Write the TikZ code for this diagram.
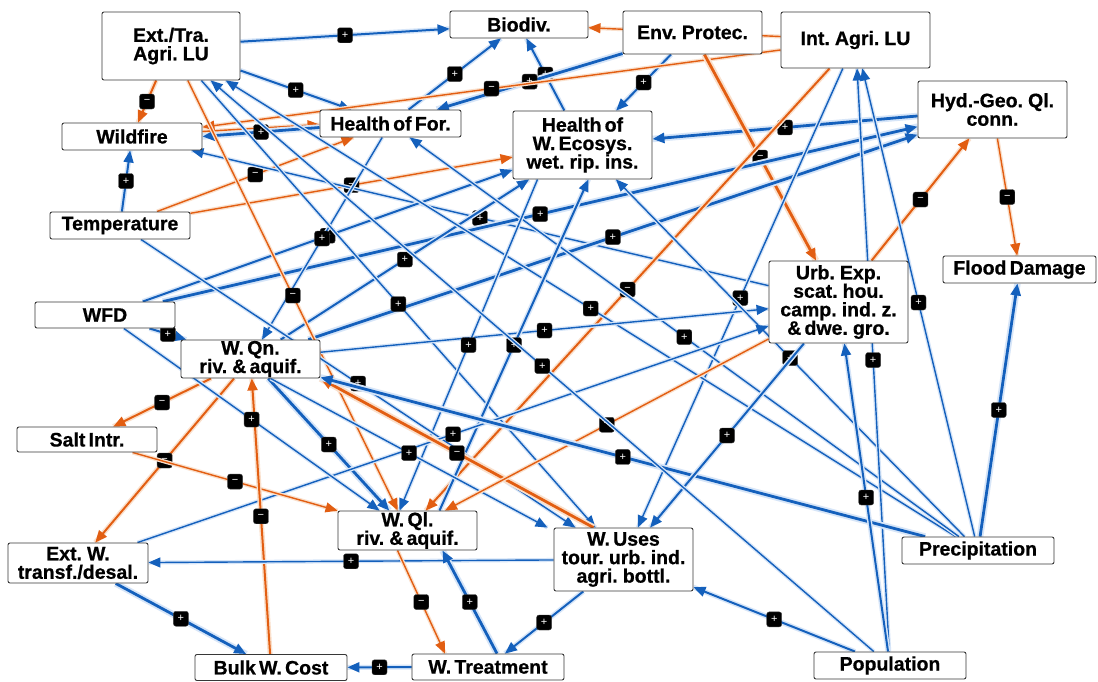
\documentclass[tikz,border=0pt]{standalone}
\usepackage{fontspec}
\setmainfont{Liberation Sans}[WordSpace=0.6, BoldFeatures={FakeBold=0.7}]
\usetikzlibrary{arrows.meta}

\definecolor{lnkblue}{RGB}{20,96,188}
\definecolor{lnkorange}{RGB}{226,94,18}
\definecolor{glowblue}{RGB}{214,229,248}
\definecolor{gloworange}{RGB}{250,224,204}
\definecolor{cframe}{RGB}{55,55,55}

\pgfdeclarelayer{links}
\pgfsetlayers{links,main}

\newcommand\varfont{\fontsize{19.5}{18.5}\selectfont\bfseries}

\tikzset{
  vbox/.style={draw=cframe, line width=0.9pt, fill=white, rounded corners=2pt,
    inner sep=0pt, align=center, font=\varfont},
  sgn/.style={fill=black, draw=black!75, line width=0.4pt, rounded corners=2.5pt,
    minimum size=15pt, inner sep=0pt, text=white, font=\fontsize{11}{11}\selectfont},
  arrowhd/.style={-{Triangle[length=12pt,width=10pt]}, line join=round},
  bthin/.style={arrowhd, draw=lnkblue, line width=1.4pt,
    preaction={draw=glowblue, line width=4pt, -}},
  bmid/.style={arrowhd, draw=lnkblue, line width=2pt,
    preaction={draw=glowblue, line width=5pt, -}},
  bthick/.style={arrowhd, draw=lnkblue, line width=2.8pt,
    preaction={draw=glowblue, line width=6.5pt, -}},
  othin/.style={arrowhd, draw=lnkorange, line width=1.4pt,
    preaction={draw=gloworange, line width=4pt, -}},
  omid/.style={arrowhd, draw=lnkorange, line width=2pt,
    preaction={draw=gloworange, line width=5pt, -}},
  othick/.style={arrowhd, draw=lnkorange, line width=2.8pt,
    preaction={draw=gloworange, line width=6.5pt, -}},
}

\begin{document}
\begin{tikzpicture}[x=1pt, y=-1pt]
\useasboundingbox (0,0) rectangle (1098,681);

% variables of the causal loop diagram
\node[vbox, minimum width=138pt, minimum height=68pt] (A) at (171,46) {Ext./Tra.\\Agri. LU};
\node[vbox, minimum width=138pt, minimum height=27pt] (B) at (519,24.5) {Biodiv.};
\node[vbox, minimum width=139pt, minimum height=43pt] (C) at (692.5,32.5) {Env. Protec.};
\node[vbox, minimum width=149pt, minimum height=56pt] (D) at (855.5,40) {Int. Agri. LU};
\node[vbox, minimum width=140pt, minimum height=27pt] (E) at (132,136.5) {Wildfire};
\node[vbox, minimum width=141pt, minimum height=27pt] (F) at (390.5,123.5) {Health of For.};
\node[vbox, minimum width=139pt, minimum height=68pt] (G) at (582.5,145) {Health of\\W. Ecosys.\\wet. rip. ins.};
\node[vbox, minimum width=149pt, minimum height=57pt] (H) at (992.5,109.5) {Hyd.-Geo. Ql.\\conn.};
\node[vbox, minimum width=140pt, minimum height=27pt] (I) at (120,225.5) {Temperature};
\node[vbox, minimum width=153pt, minimum height=27pt] (J) at (1019.5,269.5) {Flood Damage};
\node[vbox, minimum width=139pt, minimum height=82pt] (K) at (838.5,302) {Urb. Exp.\\scat. hou.\\camp. ind. z.\\\& dwe. gro.};
\node[vbox, minimum width=140pt, minimum height=26pt] (L) at (105,315) {WFD};
\node[vbox, minimum width=139pt, minimum height=38pt] (M) at (250.5,359) {W. Qn.\\riv. \& aquif.};
\node[vbox, minimum width=140pt, minimum height=25pt] (N) at (87,439.5) {Salt Intr.};
\node[vbox, minimum width=139pt, minimum height=39pt] (O) at (407.5,530.5) {W. Ql.\\riv. \& aquif.};
\node[vbox, minimum width=139pt, minimum height=63pt] (P) at (623.5,559.5) {W. Uses\\tour. urb. ind.\\agri. bottl.};
\node[vbox, minimum width=140pt, minimum height=40pt] (Q) at (78,563) {Ext. W.\\transf./desal.};
\node[vbox, minimum width=152pt, minimum height=27pt] (R) at (978,550.5) {Precipitation};
\node[vbox, minimum width=152pt, minimum height=26pt] (S) at (271,667.5) {Bulk W. Cost};
\node[vbox, minimum width=152pt, minimum height=26pt] (T) at (488,667) {W. Treatment};
\node[vbox, minimum width=152pt, minimum height=27pt] (U) at (890,665.5) {Population};

% causal links, drawn underneath the variable boxes
\begin{pgfonlayer}{links}
\fill[white] (0,0) rectangle (1098,681);
\draw[bmid] (A) -- node[sgn] (s1) {+} (B);
\draw[bmid] (F) -- node[sgn] (s2) {+} (B);
\draw[bmid] (G) -- node[sgn] (s3) {+} (B);
\draw[othin] (D) -- (B);
\draw[bthick] (C) -- node[sgn] (s4) {+} (F);
\draw[bmid] (C) -- node[sgn] (s5) {+} (G);
\draw[omid] (A) -- node[sgn] (s6) {−} (E);
\draw[bmid] (A) -- node[sgn] (s7) {+} (F);
\draw[othin] ([yshift=5pt]E.east) -- ([yshift=-1pt]F.west);
\draw[bthick] ([yshift=-4pt]F.west) -- node[sgn] (s8) {+} (E.east);
\draw[othin] (D) -- node[sgn] (s9) {−} (E);
\draw[bthick] (H) -- node[sgn] (s10) {+} (G);
\draw[othick] (C) -- node[sgn] (s11) {−} (K);
\draw[bmid] (I) -- node[sgn] (s12) {+} (E);
\draw[othin] (I) -- node[sgn] (s13) {−} (F);
\draw[othin] (I) -- node[sgn] (s14) {−} (G);
\draw[omid] (K) -- node[sgn] (s15) {−} (H);
\draw[othin] (H) -- node[sgn] (s16) {−} (J);
\draw[bthin] (K) -- node[sgn] (s17) {+} (E);
\draw[bthick] (L) -- node[sgn] (s18) {+} (H);
\draw[bmid] (L) -- node[sgn] (s19) {+} (G);
\draw[bthin] (F) -- node[sgn] (s20) {+} (M);
\draw[bthick] (M) -- node[sgn] (s21) {+} (H);
\draw[bmid] (M) -- node[sgn] (s22) {+} (G);
\draw[othin] (A) -- node[sgn] (s23) {−} (O);
\draw[omid] (D) -- node[sgn] (s24) {−} (O);
\draw[bthin] (D) -- node[sgn] (s25) {+} (P);
\draw[bthin] (A) -- node[sgn] (s26) {+} (P);
\draw[bthin] (R) -- node[sgn] (s27) {+} (A);
\draw[bthin] (R) -- node[sgn] (s28) {+} (F);
\draw[bmid] (L) -- node[sgn] (s29) {+} (M);
\draw[bthin] (M) -- node[sgn] (s30) {+} (K);
\draw[bthin] ([xshift=-45pt]G.south) -- node[sgn] (s31) {+} ([xshift=-8pt]O.north);
\draw[bmid] ([xshift=32pt]O.north) -- node[sgn] (s32) {+} ([xshift=6pt]G.south);
\draw[bthin] (R) -- node[sgn] (s33) {+} (G);
\draw[bthin] (U) -- node[sgn] (s34) {+} (D);
\draw[bthin] (I) -- node[sgn] (s35) {+} (P);
\draw[omid] (M) -- node[sgn] (s36) {−} (N);
\draw[bthick] (M) -- node[sgn] (s37) {+} (O);
\draw[bthin] (Q) -- node[sgn] (s38) {+} (K);
\draw[bthin] ([xshift=20pt]M.south) -- node[sgn] (s39) {+} ([xshift=-76pt]P.north);
\draw[othick] ([xshift=-30pt]P.north) -- node[sgn] (s40) {−} (M.south east);
\draw[othin] (K) -- node[sgn] (s41) {−} (O);
\draw[bthick] (R) -- node[sgn] (s42) {+} (M);
\draw[bmid] (K) -- node[sgn] (s43) {+} (P);
\draw[omid] (M) -- node[sgn] (s44) {−} (Q);
\draw[othin] (N) -- node[sgn] (s45) {−} (O);
\draw[omid] (S) -- node[sgn] (s46) {−} (M);
\draw[bthick] (R) -- node[sgn] (s47) {+} (J);
\draw[bmid] (U) -- node[sgn] (s48) {+} (K);
\draw[bthin] (P) -- node[sgn] (s49) {+} (Q);
\draw[bthick] (Q) -- node[sgn] (s50) {+} (S);
\draw[othin] ([xshift=-10pt]O.south) -- node[sgn] (s51) {−} ([xshift=-43pt]T.north);
\draw[bthick] ([xshift=9pt]T.north) -- node[sgn] (s52) {+} ([xshift=35pt]O.south);
\draw[bmid] (P) -- node[sgn] (s53) {+} (T);
\draw[bmid] (U) -- node[sgn] (s54) {+} (P);
\draw[bmid] (T) -- node[sgn] (s55) {+} (S);
\draw[bthin] (R) -- node[sgn] (s56) {+} (D);
\draw[bthin] (L) -- node[sgn] (s57) {+} (O);
\draw[bthin] (U) -- node[sgn] (s58) {+} (A);
\end{pgfonlayer}
\end{tikzpicture}
\end{document}
